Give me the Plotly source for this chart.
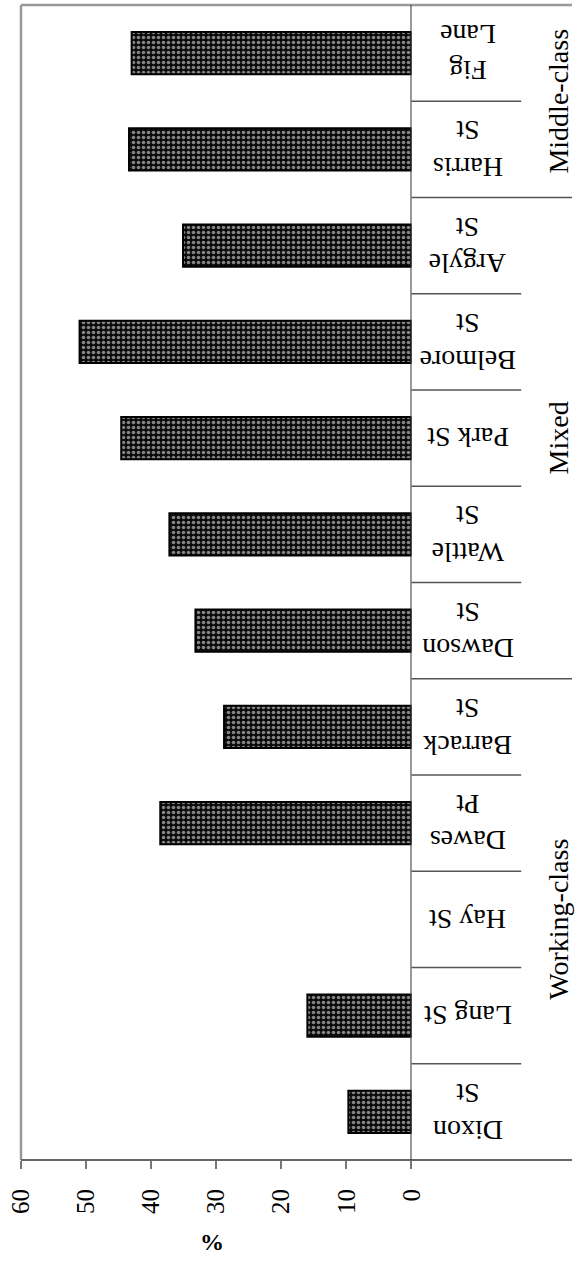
import plotly.graph_objects as go

# ---- data (bottom -> top in the rotated picture) ----
streets = ["Dixon St", "Lang St", "Hay St", "Dawes Pt", "Barrack St", "Dawson St",
           "Wattle St", "Park St", "Belmore St", "Argyle St", "Harris St", "Fig Lane"]
street_labels = ["Dixon<br>St", "Lang St", "Hay St", "Dawes<br>Pt", "Barrack<br>St", "Dawson<br>St",
                 "Wattle<br>St", "Park St", "Belmore<br>St", "Argyle<br>St", "Harris<br>St", "Fig<br>Lane"]
values = [9.7, 16.0, None, 38.6, 28.8, 33.2, 37.2, 44.6, 51.0, 35.1, 43.4, 43.0]
groups = ["Working-class", "Mixed", "Middle-class"]
group_sizes = [5, 5, 2]
x_ticks = [0, 10, 20, 30, 40, 50, 60]
x_title = "%"

SERIF = "Liberation Serif, Times New Roman, serif"
W, H = 585, 1261
ML, MR, MT, MB = 21, 0, 5, 101
plot_w = W - ML - MR
plot_h = H - MT - MB
xdom = (420.7 - ML) / plot_w
sep_short = (533 - ML) / plot_w
lab_x = (478 - ML) / plot_w
grp_x = (571 - ML) / plot_w

fig = go.Figure()
fig.add_trace(go.Bar(
    y=streets, x=values, orientation="h",
    marker=dict(color="black",
                line=dict(color="black", width=2),
                pattern=dict(shape=".", fgcolor="white", bgcolor="#0a0a0a",
                             size=5, solidity=0.4, fillmode="overlay")),
    width=0.44, showlegend=False, hoverinfo="x+y",
))

shapes = []
shapes.append(dict(type="line", xref="paper", yref="paper", x0=0, x1=0, y0=0, y1=1,
                   line=dict(color="#999999", width=2.5)))
shapes.append(dict(type="line", xref="paper", yref="paper", x0=0, x1=1, y0=1, y1=1,
                   line=dict(color="#999999", width=2.5)))
shapes.append(dict(type="line", xref="paper", yref="paper", x0=0, x1=1, y0=0, y1=0,
                   line=dict(color="#666666", width=2)))
shapes.append(dict(type="line", xref="x", yref="paper", x0=0, x1=0, y0=0, y1=1,
                   line=dict(color="#333333", width=2)))
bounds = set()
acc = 0
for s in group_sizes[:-1]:
    acc += s
    bounds.add(acc)
for i in range(1, len(streets)):
    shapes.append(dict(type="line", xref="paper", yref="y",
                       x0=xdom, x1=(1 if i in bounds else sep_short),
                       y0=i - 0.5, y1=i - 0.5,
                       line=dict(color="#555555", width=1.5)))

annotations = []
for s, lab in zip(streets, street_labels):
    annotations.append(dict(xref="paper", yref="y", x=lab_x, y=s, text=lab,
                            textangle=180, showarrow=False, xanchor="center", yanchor="middle",
                            font=dict(family=SERIF, size=28, color="black")))
start = 0
for g, n in zip(groups, group_sizes):
    annotations.append(dict(xref="paper", yref="y", x=grp_x, y=start + (n - 1) / 2, text=g,
                            textangle=-90, showarrow=False, xanchor="center", yanchor="middle",
                            font=dict(family=SERIF, size=28, color="black")))
    start += n
annotations.append(dict(xref="paper", yref="paper", x=(217 - ML) / plot_w,
                        y=-(1242 - (H - MB)) / plot_h, text="<b>" + x_title + "</b>",
                        showarrow=False, xanchor="center", yanchor="middle",
                        font=dict(family=SERIF, size=24, color="black")))

fig.update_layout(
    width=W, height=H, margin=dict(l=ML, r=MR, t=MT, b=MB),
    autosize=False,
    paper_bgcolor="white", plot_bgcolor="white",
    bargap=0.56,
    xaxis=dict(domain=[0, xdom], range=[60, 0], tickvals=x_ticks,
               ticks="outside", ticklen=8, tickwidth=1.5, tickcolor="#777777",
               tickangle=-90, ticklabelstandoff=10,
               tickfont=dict(family=SERIF, size=25, color="black"),
               showgrid=False, zeroline=False, showline=False),
    yaxis=dict(range=[-0.5, len(streets) - 0.5], showticklabels=False,
               showgrid=False, zeroline=False, showline=False, ticks=""),
    shapes=shapes, annotations=annotations,
)

post = (
    "document.documentElement.style.overflow='hidden';"
    "document.documentElement.style.margin='0';"
    "document.body.style.margin='0';"
    "document.body.style.padding='0';"
    "document.body.style.overflow='hidden';"
)
fig.write_html("out.html", config={"responsive": False, "displayModeBar": False}, post_script=post)
